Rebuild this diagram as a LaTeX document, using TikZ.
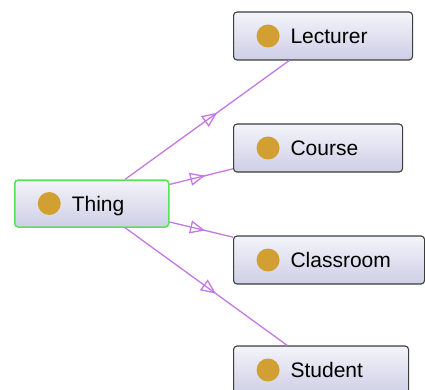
\documentclass[tikz,border=0pt]{standalone}
\usepackage{fontspec}
\setmainfont{Liberation Sans}
\usetikzlibrary{arrows.meta,decorations.markings}
\definecolor{boxline}{RGB}{60,60,60}
\definecolor{boxtop}{RGB}{244,244,250}
\definecolor{boxbot}{RGB}{206,206,230}
\definecolor{thingline}{RGB}{90,225,90}
\definecolor{dotgold}{RGB}{210,160,50}
\definecolor{isaline}{RGB}{196,120,228}
\tikzset{
classbox/.style = {draw=boxline, line width=1.1pt, rounded corners=3.5pt, top color=boxtop, bottom color=boxbot,
  minimum height=48pt, text width=#1, inner xsep=0pt, align=left, anchor=west, text height=15pt, text depth=0pt,
  font=\fontsize{21}{25}\selectfont, execute at begin node={\hspace*{57pt}},
  path picture={\fill[dotgold] ([xshift=34.5pt]path picture bounding box.west) circle (11.5pt);}},
rootbox/.style = {classbox=#1, draw=thingline, line width=1.5pt, minimum height=47pt},
isa/.style = {draw=isaline, line width=1.3pt, postaction={decorate},
  decoration={markings, mark=at position 0.56 with {\arrow{Triangle[open, length=15pt, width=13pt]}}}}
}
\begin{document}
\begin{tikzpicture}[x=1pt, y=-1pt]
    \useasboundingbox (0,0) rectangle (425,390);
    \node [rootbox=154pt] (thing) at (14,203.5) {Thing};
    \node [classbox=179pt] (lecturer) at (233,36) {Lecturer};
    \node [classbox=169pt] (course) at (233,148) {Course};
    \node [classbox=191pt] (classroom) at (233,260) {Classroom};
    \node [classbox=175pt] (student) at (233,370) {Student};
    \draw [isa] (thing) -- (lecturer);
    \draw [isa] (thing) -- (course);
    \draw [isa] (thing) -- (classroom);
    \draw [isa] (thing) -- (student);
\end{tikzpicture}
\end{document}
